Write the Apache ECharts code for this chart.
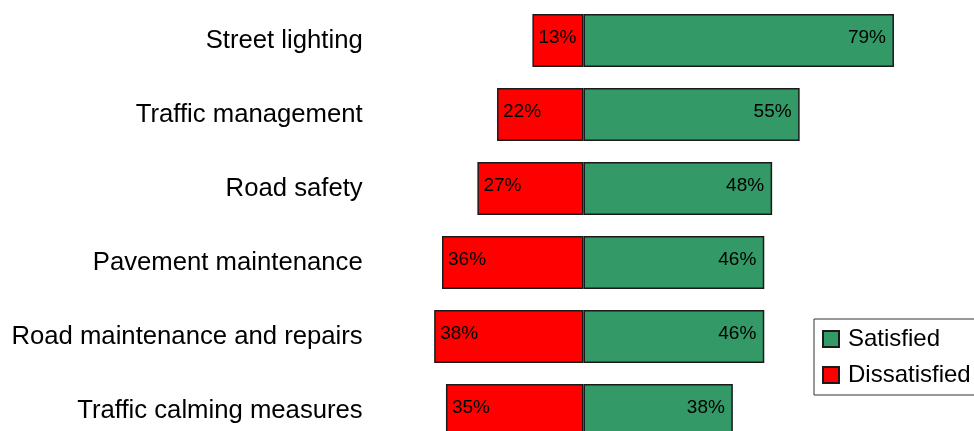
<!doctype html>
<html lang="en">
<head>
    <meta charset="UTF-8">
    <title>Satisfaction</title>
    <script src="https://cdn.jsdelivr.net/npm/echarts@6/dist/echarts.min.js"></script>
    <style>
        html, body { margin: 0; padding: 0; background: #fff; }
    </style>
</head>
<body>
<div id="main" style="width:974px; height:431px;"></div>

<script>
    // categories, top to bottom
    var categories = ['Street lighting', 'Traffic management', 'Road safety',
        'Pavement maintenance', 'Road maintenance and repairs', 'Traffic calming measures'];
    var satisfied = [79, 55, 48, 46, 46, 38];
    var dissatisfied = [13, 22, 27, 36, 38, 35];

    var font = 'Liberation Sans, Arial, sans-serif';

    var myChart = echarts.init(document.getElementById('main'));
    myChart.setOption({
        animation: false,
        grid: {
            left: 426.3,
            width: 471.6,
            top: 3.5,
            height: 444,
            outerBoundsMode: 'none'
        },
        legend: {
            orient: 'vertical',
            left: 814,
            top: 319,
            padding: [8, 8, 8, 8],
            itemWidth: 16,
            itemHeight: 16,
            itemGap: 12,
            icon: 'rect',
            borderColor: '#333',
            borderWidth: 1,
            data: ['Satisfied', 'Dissatisfied'],
            textStyle: {
                fontFamily: font,
                fontSize: 24,
                color: '#000',
                padding: [0, 0, 0, 4]
            }
        },
        xAxis: {
            type: 'value',
            min: -40,
            max: 80,
            show: false
        },
        yAxis: {
            type: 'category',
            inverse: true,
            data: categories,
            axisLine: { show: false },
            axisTick: { show: false },
            axisLabel: {
                margin: 63.6,
                fontFamily: font,
                fontSize: 25.7,
                color: '#000'
            }
        },
        series: [
            {
                name: 'Dissatisfied',
                type: 'bar',
                stack: 'total',
                barWidth: 53,
                data: dissatisfied.map(function (v) { return -v; }),
                itemStyle: { color: '#ff0000', borderColor: '#1a1a1a', borderWidth: 1.5 },
                label: {
                    show: true,
                    position: 'insideLeft',
                    distance: 6,
                    offset: [0, -3],
                    fontFamily: font,
                    fontSize: 19,
                    color: '#000',
                    formatter: function (p) { return Math.abs(p.value) + '%'; }
                }
            },
            {
                name: 'Satisfied',
                type: 'bar',
                stack: 'total',
                barWidth: 53,
                data: satisfied,
                itemStyle: { color: '#339966', borderColor: '#1a1a1a', borderWidth: 1.5 },
                label: {
                    show: true,
                    position: 'insideRight',
                    distance: 8,
                    offset: [0, -3],
                    fontFamily: font,
                    fontSize: 19,
                    color: '#000',
                    formatter: '{c}%'
                }
            }
        ]
    });
</script>
</body>
</html>
